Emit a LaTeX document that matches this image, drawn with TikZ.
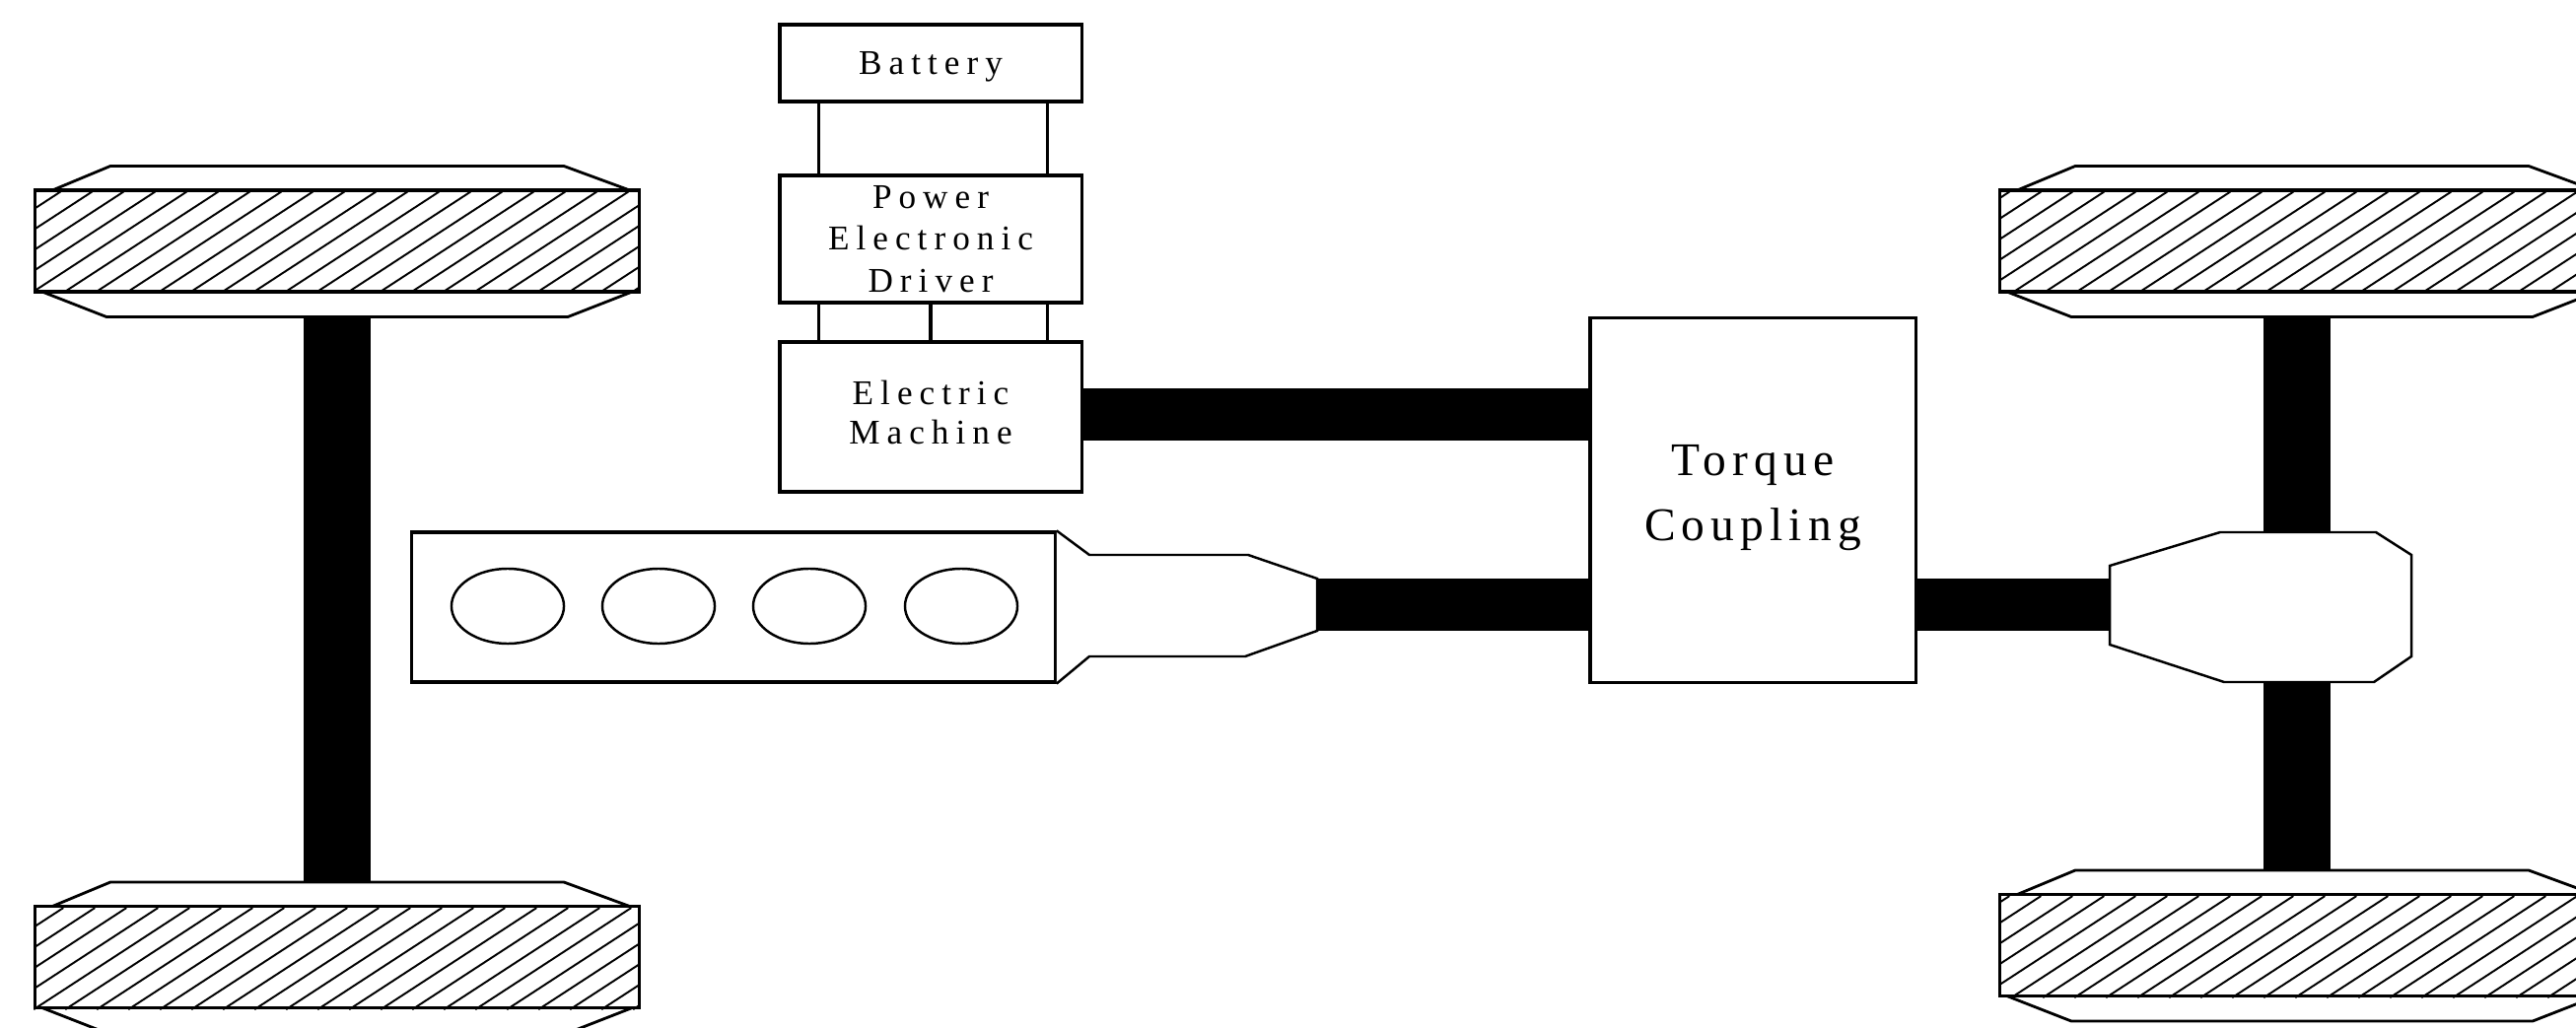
\documentclass[tikz,border=0pt]{standalone}
\usepackage{fontspec}
\setmainfont{Liberation Serif}[LetterSpace=20]
\usetikzlibrary{shapes.geometric, calc}

\begin{document}
\begin{tikzpicture}[
    x=0.01cm, y=-0.01cm,
    box/.style={rectangle, draw, line width=0.9pt, fill=white, minimum width=3.06cm, inner sep=0pt, align=center, font=\fontsize{10}{12}\selectfont},
    wheelbox/.style={rectangle, draw, line width=0.9pt, minimum width=6.12cm, minimum height=1.03cm, inner sep=0pt},
    rim/.style={draw, line width=0.8pt, fill=white},
    hatch/.style={line width=0.55pt},
    shaft/.style={line width=0.53cm},
    axle/.style={line width=0.68cm},
    wire/.style={line width=0.9pt},
    body/.style={draw, line width=0.7pt, fill=white},
    cylinder/.style={ellipse, draw, line width=0.7pt, minimum width=1.14cm, minimum height=0.76cm, inner sep=0pt},
]
\useasboundingbox (0,0) rectangle (2613,1043);
\clip (0,0) rectangle (2613,1043);

% Wheels
\foreach \name/\cx/\cy/\phase in {wheelLT/342/244.5/29, wheelLB/342/971/32, wheelRT/2335/244.5/13, wheelRB/2335/959/13}{
    \path[rim] (\cx-230,\cy-76) -- (\cx+230,\cy-76) -- (\cx+298,\cy-51) -- (\cx+298,\cy+52)
        -- (\cx+234,\cy+77) -- (\cx-234,\cy+77) -- (\cx-298,\cy+52) -- (\cx-290,\cy-51) -- cycle;
    \node[wheelbox, fill=white] (\name) at (\cx,\cy) {};
    \begin{scope}
        \clip (\name.south west) rectangle (\name.north east);
        \foreach \k in {-6,...,19}
            \draw[hatch] ($(\name.south west)+(\k*32+\phase,0)$) -- ++(158,-103);
    \end{scope}
    \node[wheelbox] at (\name.center) {};
}

% Axles
\draw[axle] ([yshift=-0.24cm]wheelLT.south) -- ([yshift=0.24cm]wheelLB.north);
\draw[axle] ([xshift=-0.05cm, yshift=-0.24cm]wheelRT.south) -- ([xshift=-0.05cm, yshift=0.24cm]wheelRB.north);

% Electric path
\node[box, minimum height=0.78cm, text depth=0pt] (battery) at (944,64) {Battery};
\node[box, minimum height=1.29cm] (driver) at (944,242.5) {Power\\Electronic\\Driver};
\node[box, minimum height=1.52cm, text depth=2.8pt, font=\fontsize{10}{11.4}\selectfont] (machine) at (944,423) {Electric\\Machine};

\draw[wire] ([xshift=0.41cm]battery.south west) -- ([xshift=0.41cm]driver.north west);
\draw[wire] ([xshift=-0.36cm]battery.south east) -- ([xshift=-0.36cm]driver.north east);
\draw[wire] ([xshift=0.41cm]driver.south west) -- ([xshift=0.41cm]machine.north west);
\draw[wire] (driver.south) -- (machine.north);
\draw[wire] ([xshift=-0.36cm]driver.south east) -- ([xshift=-0.36cm]machine.north east);

% Torque coupling
\node[box, minimum width=3.30cm, minimum height=3.69cm, text depth=4.3pt, font=\fontsize{13.5}{18.5}\selectfont\addfontfeature{LetterSpace=13}] (coupling) at (1778,507.5) {Torque\\Coupling};

% Engine
\node[box, minimum width=6.52cm, minimum height=1.52cm] (engine) at (744,616) {};
\foreach \i/\cx in {1/515, 2/668, 3/821, 4/975}
    \node[cylinder] (cyl\i) at (\cx,615) {};
\coordinate (neck) at (1336,613.5);
\path[body] (engine.north east) -- (1105,563) -- (1266,563) -- (1336,587) -- (1336,640) -- (1263,666) -- (1105,666) -- (engine.south east);

% Final drive
\coordinate (diffin) at (2140,613.5);
\path[body] (2140,574) -- (2252,540) -- (2410,540) -- (2446,563) -- (2446,666) -- (2408,692) -- (2256,692) -- (2140,654) -- cycle;

% Shafts
\coordinate (emout) at ([yshift=0.025cm]machine.east);
\draw[shaft] (emout) -- (emout -| coupling.west);
\draw[shaft] (neck) -- (neck -| coupling.west);
\draw[shaft] (neck -| coupling.east) -- (diffin);

\end{tikzpicture}
\end{document}
